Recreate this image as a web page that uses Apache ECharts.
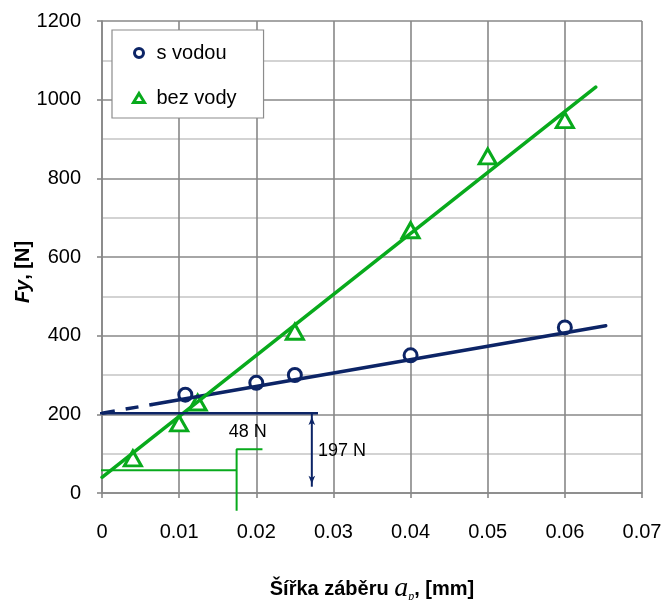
<!DOCTYPE html>
<html>
<head>
<meta charset="utf-8">
<script src="https://cdn.jsdelivr.net/npm/echarts@6/dist/echarts.min.js"></script>
<style>
html,body{margin:0;padding:0;background:#fff;}
#chart{width:664px;height:600px;}
</style>
</head>
<body>
<div id="chart"></div>
<script>
// ---- data ----
const xTickLabels = ['0', '0.01', '0.02', '0.03', '0.04', '0.05', '0.06', '0.07'];
const yTickLabels = ['0', '200', '400', '600', '800', '1000', '1200'];

const seriesNames = ['s vodou', 'bez vody'];

const waterX = [0.0108, 0.0200, 0.0250, 0.0400, 0.0600];
const waterY = [250, 280, 300, 350, 421];

const dryX = [0.0040, 0.0100, 0.0124, 0.0250, 0.0400, 0.0500, 0.0600];
const dryY = [88, 177, 230, 410, 668, 856, 948];

// trend lines
const waterTrendDashX = [0, 0.0065];
const waterTrendDashY = [203, 225];
const waterTrendX = [0.0065, 0.0653];
const waterTrendY = [225, 425];
const dryTrendX = [0, 0.0640];
const dryTrendY = [40, 1032];

// annotation lines
const ref197X = [-0.0008, 0.0280];
const ref197Y = [203, 203];
const arrow197X = [0.0272, 0.0272];
const arrow197Y = [201, 16];
const ref48X = [-0.0007, 0.01745];
const ref48Y = [58, 58];
const mark48X = [0.01745, 0.01745, 0.0208];
const mark48Y = [-45, 111, 111];

const noteText = ['48 N', '197 N'];
const noteX = [0.0189, 0.0311];
const noteY = [156, 107];

// ---- styling ----
const NAVY = '#0c2466';
const GREEN = '#08aa1c';
const GRID = '#888888';
const MINOR = '#c4c4c4';
const FONT = '"Liberation Sans", Arial, sans-serif';

const zip = (xs, ys) => xs.map((x, i) => [x, ys[i]]);

const chart = echarts.init(document.getElementById('chart'), null, {renderer: 'canvas'});

const option = {
  backgroundColor: '#fff',
  animation: false,
  textStyle: {fontFamily: FONT, color: '#000'},
  grid: {left: 102, right: 22, top: 21, bottom: 107, containLabel: false, outerBoundsMode: 'none'},
  legend: {
    orient: 'vertical',
    left: 112,
    top: 30,
    padding: [12, 27, 9, 20],
    itemGap: 23,
    itemWidth: 11,
    itemHeight: 9,
    backgroundColor: '#fff',
    borderColor: '#8c8c8c',
    borderWidth: 1.2,
    borderRadius: 0,
    textStyle: {fontSize: 20, fontFamily: FONT, color: '#000', lineHeight: 22, padding: [0, 0, 0, 7]},
    data: [
      {name: seriesNames[0], icon: 'circle', itemStyle: {color: '#fff', borderColor: NAVY, borderWidth: 3}},
      {name: seriesNames[1], icon: 'triangle', itemStyle: {color: '#fff', borderColor: GREEN, borderWidth: 3}}
    ]
  },
  xAxis: {
    type: 'value',
    min: 0, max: 0.07, interval: 0.01,
    name: '{b|Šířka záběru }{a|a}{s|p}{b|, [mm]}',
    nameLocation: 'middle',
    nameGap: 82,
    nameMoveOverlap: false,
    nameTextStyle: {
      rich: {
        b: {fontSize: 20, fontWeight: 'bold', fontFamily: FONT, color: '#000'},
        a: {fontSize: 28, fontStyle: 'italic', fontFamily: '"Liberation Serif", "DejaVu Serif", serif', color: '#000'},
        s: {fontSize: 12, fontStyle: 'italic', fontFamily: '"Liberation Serif", serif', color: '#000', verticalAlign: 'bottom'}
      }
    },
    axisLine: {show: true, lineStyle: {color: GRID, width: 1.6}},
    axisTick: {show: true, inside: false, length: 5, lineStyle: {color: GRID, width: 1.6}},
    axisLabel: {margin: 29, fontSize: 20, color: '#000', fontFamily: FONT,
      formatter: (v, i) => xTickLabels[i]},
    splitLine: {show: true, lineStyle: {color: GRID, width: 1.6}}
  },
  yAxis: {
    type: 'value',
    min: 0, max: 1200, interval: 200,
    name: '{i|Fy}{b|, [N]}',
    nameLocation: 'middle',
    nameGap: 69,
    nameRotate: 90,
    nameMoveOverlap: false,
    nameTextStyle: {
      padding: [0, 30, 0, 0],
      rich: {
        i: {fontSize: 20, fontWeight: 'bold', fontStyle: 'italic', fontFamily: FONT, color: '#000'},
        b: {fontSize: 20, fontWeight: 'bold', fontFamily: FONT, color: '#000'}
      }
    },
    axisLine: {show: true, lineStyle: {color: GRID, width: 1.6}},
    axisTick: {show: true, inside: false, length: 5, lineStyle: {color: GRID, width: 1.6}},
    axisLabel: {margin: 21, fontSize: 20, color: '#000', fontFamily: FONT,
      formatter: (v, i) => yTickLabels[i]},
    splitLine: {show: true, lineStyle: {color: GRID, width: 1.6}},
    minorTick: {show: false, splitNumber: 2},
    minorSplitLine: {show: true, lineStyle: {color: MINOR, width: 1.6}}
  },
  series: [
    {
      name: seriesNames[0], type: 'scatter', z: 3,
      symbol: 'circle', symbolSize: 13,
      itemStyle: {color: '#fff', borderColor: NAVY, borderWidth: 3, opacity: 1},
      data: zip(waterX, waterY)
    },
    {
      name: seriesNames[1], type: 'scatter', z: 3,
      symbol: 'triangle', symbolSize: [17, 15],
      itemStyle: {color: '#fff', borderColor: GREEN, borderWidth: 3, opacity: 1},
      data: zip(dryX, dryY)
    },
    {
      name: 'trend s vodou (dashed)', type: 'line', z: 4, showSymbol: false, clip: false,
      lineStyle: {color: NAVY, width: 3.5, type: [13, 11], cap: 'butt'},
      data: zip(waterTrendDashX, waterTrendDashY)
    },
    {
      name: 'trend s vodou', type: 'line', z: 4, showSymbol: false, clip: false,
      lineStyle: {color: NAVY, width: 3.5, cap: 'round'},
      data: zip(waterTrendX, waterTrendY)
    },
    {
      name: 'trend bez vody', type: 'line', z: 4, showSymbol: false, clip: false,
      lineStyle: {color: GREEN, width: 3.5, cap: 'round'},
      data: zip(dryTrendX, dryTrendY)
    },
    {
      name: 'ref 197', type: 'line', z: 4, showSymbol: false, clip: false,
      lineStyle: {color: NAVY, width: 2.5},
      data: zip(ref197X, ref197Y)
    },
    {
      name: 'arrow 197', type: 'line', z: 4, clip: false,
      showSymbol: true, showAllSymbol: true,
      lineStyle: {color: NAVY, width: 2},
      itemStyle: {color: NAVY},
      data: [
        {value: [arrow197X[0], arrow197Y[0]], symbol: 'arrow', symbolSize: [5, 8], symbolRotate: 0, symbolOffset: [0, 3]},
        {value: [arrow197X[1], arrow197Y[1]], symbol: 'arrow', symbolSize: [5, 8], symbolRotate: 180, symbolOffset: [0, -3]}
      ]
    },
    {
      name: 'ref 48', type: 'line', z: 4, showSymbol: false, clip: false,
      lineStyle: {color: GREEN, width: 2},
      data: zip(ref48X, ref48Y)
    },
    {
      name: 'mark 48', type: 'line', z: 4, showSymbol: false, clip: false,
      lineStyle: {color: GREEN, width: 2},
      data: zip(mark48X, mark48Y)
    },
    {
      name: 'notes', type: 'scatter', z: 5, symbolSize: 1, clip: false,
      label: {show: true, position: 'inside', formatter: p => p.data.name,
        fontSize: 18, color: '#000', opacity: 1, textBorderWidth: 0, fontFamily: FONT},
      itemStyle: {color: '#fff', opacity: 0},
      emphasis: {disabled: true},
      data: noteText.map((t, i) => ({name: t, value: [noteX[i], noteY[i]]}))
    }
  ]
};
chart.setOption(option);
</script>
</body>
</html>
